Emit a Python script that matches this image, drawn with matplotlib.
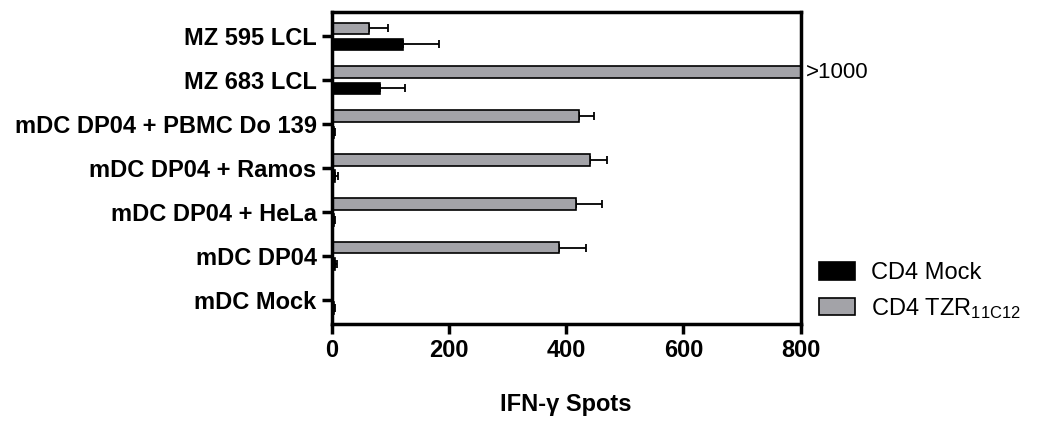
import matplotlib.pyplot as plt
import numpy as np

plt.rcParams['font.family'] = ['Liberation Sans', 'DejaVu Sans']
plt.rcParams['mathtext.default'] = 'regular'

# ELISpot results, listed bottom to top
conditions = ['mDC Mock', 'mDC DP04', 'mDC DP04 + HeLa', 'mDC DP04 + Ramos',
              'mDC DP04 + PBMC Do 139', 'MZ 683 LCL', 'MZ 595 LCL']
mock_mean = [3, 5, 3, 5, 3, 82, 122]
mock_err = [3, 4, 3, 5, 2, 43, 61]
tzr_mean = [1, 387, 417, 441, 421, 1000, 64]
tzr_err = [0, 47, 44, 29, 27, 0, 31]


def app():
    fig = plt.figure(figsize=(10.37, 4.36), dpi=100)
    ax = fig.add_axes([0.320, 0.257, 0.452, 0.715])

    y = np.arange(len(conditions))
    h = 0.26
    off = 0.185

    ax.barh(y + off, tzr_mean, height=h, color='#a3a3a8', edgecolor='black',
            linewidth=1.2, label='CD4 TZR$_{11C12}$', zorder=2)
    ax.barh(y - off, mock_mean, height=h, color='black', edgecolor='black',
            linewidth=1.2, label='CD4 Mock', zorder=2)

    ekw = dict(fmt='none', ecolor='black', elinewidth=1.3, capsize=3, capthick=1.3, zorder=1)
    ax.errorbar(tzr_mean, y + off, xerr=[np.zeros(len(y)), tzr_err], **ekw)
    ax.errorbar(mock_mean, y - off, xerr=[np.zeros(len(y)), mock_err], **ekw)

    ax.set_xlim(0, 800)
    ax.set_ylim(-0.55, len(conditions) - 0.45)
    ax.set_xticks([0, 200, 400, 600, 800])
    ax.set_yticks(y)
    ax.set_yticklabels(conditions)
    for lab in ax.get_xticklabels() + ax.get_yticklabels():
        lab.set_fontweight('bold')
        lab.set_fontsize(17)

    for sp in ax.spines.values():
        sp.set_linewidth(2.5)
    ax.tick_params(axis='both', width=2.5, length=7, direction='out', pad=4)

    ax.set_xlabel('IFN-γ Spots', fontsize=17, fontweight='bold', labelpad=22)

    ax.text(1.012, (5 + off - ax.get_ylim()[0]) / (ax.get_ylim()[1] - ax.get_ylim()[0]),
            '>1000', transform=ax.transAxes, fontsize=16, va='center', ha='left')

    handles, labels = ax.get_legend_handles_labels()
    ax.legend(handles[::-1], labels[::-1], loc='lower left', bbox_to_anchor=(1.04, 0.01),
              frameon=False, fontsize=17, handlelength=1.5, handleheight=0.75,
              labelspacing=0.5, handletextpad=0.7, borderpad=0, borderaxespad=0)

    fig.savefig('out.png', dpi=100)


if __name__ == '__main__':
    app()
